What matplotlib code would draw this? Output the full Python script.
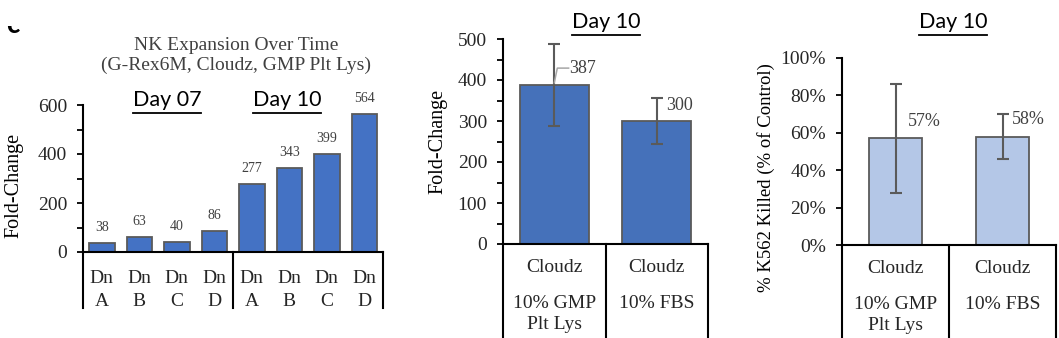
import matplotlib
matplotlib.use("Agg")
import matplotlib.pyplot as plt
import matplotlib.transforms as mtrans
from matplotlib.lines import Line2D
from matplotlib.ticker import MultipleLocator, PercentFormatter

# expansion over time, per donor
donors = ["A", "B", "C", "D", "A", "B", "C", "D"]
fold_change = [38, 63, 40, 86, 277, 343, 399, 564]

# day 10 comparison
conditions = ["10% GMP\nPlt Lys", "10% FBS"]
day10_fold = [387, 300]
day10_fold_err = [100, 57]
killed = [0.57, 0.58]
killed_err = [0.29, 0.12]

plt.rcParams['font.family'] = ['Liberation Serif', 'DejaVu Serif']
plt.rcParams['font.size'] = 14

BLUE = '#4472C4'
BLUE2 = '#4571BA'
LIGHT = '#B4C7E7'
EDGE = '#5a5a5a'
W, H = 1059, 338

fig = plt.figure(figsize=(W / 100, H / 100), dpi=100)


def px_axes(l, r, bottom, top):
    return fig.add_axes([l / W, 1 - bottom / H, (r - l) / W, (bottom - top) / H])


def style(ax):
    for s in ['top', 'right']:
        ax.spines[s].set_visible(False)
    for s in ['left', 'bottom']:
        ax.spines[s].set_linewidth(1.5)
        ax.spines[s].set_color('black')
    ax.tick_params(axis='y', which='both', direction='out', length=4.5, width=1.3,
                   pad=7, labelsize=14, labelcolor='#262626')
    ax.tick_params(axis='x', which='both', length=0, labelbottom=False)


def boxes(ax, xs, depth):
    tr = mtrans.blended_transform_factory(ax.transData, ax.transAxes)
    for x in xs:
        ax.plot([x, x], [0, -depth], color='black', lw=1.5, transform=tr, clip_on=False)


def cat_text(ax, x, y, s, size=14):
    tr = mtrans.blended_transform_factory(ax.transData, ax.transAxes)
    ax.text(x, y, s, transform=tr, ha='center', va='center', fontsize=size,
            color='#262626')


# ---- NK expansion over time ----
ax1 = px_axes(83, 383, 252, 105)
style(ax1)
x1 = range(len(fold_change))
ax1.bar(x1, fold_change, width=0.68, color=BLUE, edgecolor=EDGE, linewidth=1.3)
for x, v in zip(x1, fold_change):
    ax1.annotate(str(v), (x, v), xytext=(0, 11), textcoords='offset points',
                 ha='center', va='center', fontsize=10, color='#404040')
ax1.set_xlim(-0.5, 7.5)
ax1.set_ylim(0, 600)
ax1.yaxis.set_major_locator(MultipleLocator(200))
ax1.yaxis.set_minor_locator(MultipleLocator(100))
ax1.set_ylabel('Fold-Change', fontsize=14.5)
ax1.yaxis.set_label_coords(-0.2, 0.45)
boxes(ax1, [-0.5, 3.5, 7.5], 0.38)
for x, d in zip(x1, donors):
    cat_text(ax1, x, -0.177, 'Dn')
    cat_text(ax1, x, -0.34, d)
ax1.set_title('NK Expansion Over Time\n(G-Rex6M, Cloudz, GMP Plt Lys)',
              fontsize=14, color='#404040', linespacing=1.2, x=0.51, y=1.0, pad=25)

# ---- Day 10 fold-change ----
ax2 = px_axes(503, 708, 244, 39)
style(ax2)
x2 = range(len(day10_fold))
ax2.bar(x2, day10_fold, width=0.67, color=BLUE2, edgecolor=EDGE, linewidth=1.3,
        yerr=day10_fold_err, error_kw=dict(ecolor=EDGE, elinewidth=1.5, capsize=4.5, capthick=1.5))
ax2.set_xlim(-0.5, 1.5)
ax2.set_ylim(0, 500)
ax2.yaxis.set_major_locator(MultipleLocator(100))
ax2.yaxis.set_minor_locator(MultipleLocator(50))
ax2.set_ylabel('Fold-Change', fontsize=14.5)
ax2.yaxis.set_label_coords(-0.273, 0.5)
# data labels, the first one pulled out with a leader line
v = day10_fold[0]
ax2.plot([0.0, 0.03, 0.14], [v + 6, v + 42, v + 42], color='#a6a6a6', lw=1.1)
ax2.text(0.15, v + 42, str(v), ha='left', va='center', fontsize=13, color='#404040')
ax2.text(1 + 0.22, day10_fold[1] + 39, str(day10_fold[1]), ha='center', va='center',
         fontsize=13, color='#404040')
boxes(ax2, [-0.5, 0.5, 1.5], 0.47)
for x, c in zip(x2, conditions):
    cat_text(ax2, x, -0.117, 'Cloudz')
    for i, line in enumerate(c.split('\n')):
        cat_text(ax2, x, -0.288 - 0.107 * i, line)

# ---- K562 killing ----
ax3 = px_axes(842, 1056, 245, 58)
style(ax3)
x3 = range(len(killed))
ax3.bar(x3, killed, width=0.5, color=LIGHT, edgecolor=EDGE, linewidth=1.3,
        yerr=killed_err, error_kw=dict(ecolor=EDGE, elinewidth=1.5, capsize=4.5, capthick=1.5))
ax3.set_xlim(-0.5, 1.5)
ax3.set_ylim(0, 1.0)
ax3.yaxis.set_major_locator(MultipleLocator(0.2))
ax3.yaxis.set_major_formatter(PercentFormatter(1.0, decimals=0))
ax3.set_ylabel('% K562 Killed (% of Control)', fontsize=13.5)
ax3.yaxis.set_label_coords(-0.313, 0.36)
for x, v, off in zip(x3, killed, [0.27, 0.24]):
    ax3.text(x + off, v + 0.093, f'{v:.0%}', ha='center', va='center', fontsize=13,
             color='#404040')
boxes(ax3, [-0.5, 0.5, 1.5], 0.5)
for x, c in zip(x3, conditions):
    cat_text(ax3, x, -0.123, 'Cloudz')
    for i, line in enumerate(c.split('\n')):
        cat_text(ax3, x, -0.32 - 0.113 * i, line)

# panel letter, mostly cut off at the top
letter = fig.text(6 / W, 1 - 33 / H, 'c', fontsize=20, fontweight='bold',
                  family=['Lato', 'DejaVu Sans'], ha='left', va='baseline')
letter.set_clip_box(mtrans.Bbox([[0, 0], [60, H - 26]]))
letter.set_clip_on(True)

# underlined "Day" headers
headers = [(167, 100, 'Day 07'), (287, 100, 'Day 10'), (606, 22, 'Day 10'), (953, 22, 'Day 10')]
fig.canvas.draw()
renderer = fig.canvas.get_renderer()
for hx, hy, s in headers:
    t = fig.text(hx / W, 1 - hy / H, s, ha='center', va='center', fontsize=15.5,
                 family=['Lato', 'DejaVu Sans'])
    bb = t.get_window_extent(renderer)
    fig.add_artist(Line2D([bb.x0 / W, bb.x1 / W], [(bb.y0 - 3) / H] * 2,
                          color='black', lw=1.3, transform=fig.transFigure))

fig.savefig('out.png', dpi=100)
